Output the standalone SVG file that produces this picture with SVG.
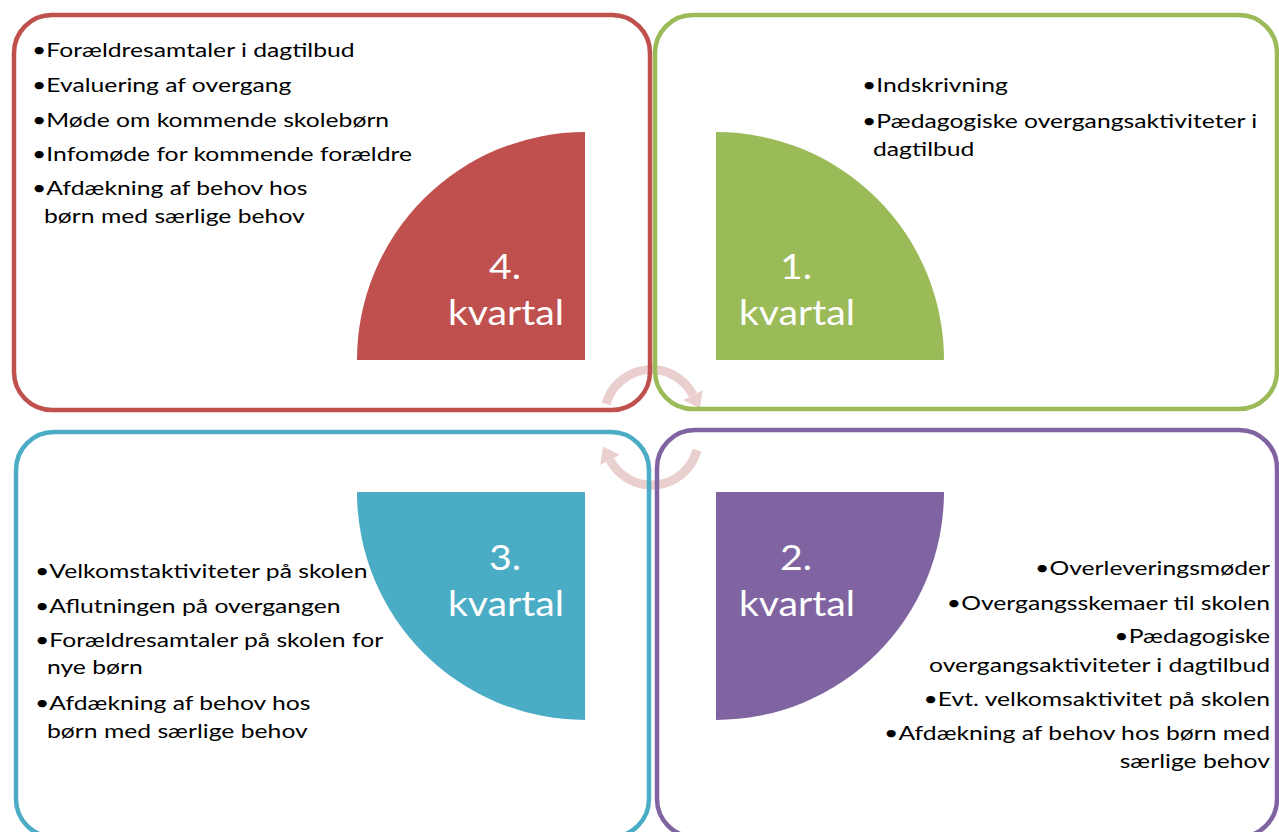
<svg xmlns="http://www.w3.org/2000/svg" width="1279" height="832" viewBox="0 0 1279 832">
<style>
.box{fill:none;stroke-width:4.5}
.t{font-family:Lato,"Liberation Sans",sans-serif;font-size:20px;fill:#000}
.r{text-anchor:end}
.q{font-family:Lato,"Liberation Sans",sans-serif;font-size:35px;fill:#fff;text-anchor:middle}
.arc{fill:none;stroke:#EACFCF;stroke-width:9}
</style>
<defs>
<marker id="ah" markerUnits="userSpaceOnUse" markerWidth="16" markerHeight="22" refX="0" refY="11" orient="auto">
<path d="M0,0 L15,11 L0,22 Z" fill="#EACFCF"/>
</marker>
</defs>
<rect width="1279" height="832" fill="#fff"/>
<g id="connectors">
<path class="arc" d="M606,404 A47,47 0 0 1 693,395" marker-end="url(#ah)"/>
<path class="arc" d="M697,450 A47,47 0 0 1 610,460" marker-end="url(#ah)"/>
</g>
<g id="q4">
<rect class="box" x="14" y="15" width="636" height="395" rx="38" stroke="#C0504D"/>
<text class="t" transform="translate(32,57) scale(1.235,1)">•Forældresamtaler i dagtilbud</text>
<text class="t" transform="translate(32,92) scale(1.235,1)">•Evaluering af overgang</text>
<text class="t" transform="translate(32,127) scale(1.235,1)">•Møde om kommende skolebørn</text>
<text class="t" transform="translate(32,161) scale(1.235,1)">•Infomøde for kommende forældre</text>
<text class="t" transform="translate(32,195) scale(1.235,1)">•Afdækning af behov hos</text>
<text class="t" transform="translate(44,223) scale(1.235,1)">børn med særlige behov</text>
<path d="M585,360 L357,360 A228,228 0 0 1 585,132 Z" fill="#C0504D"/>
<text class="q" transform="translate(505,279) scale(1.12,1)">4.</text>
<text class="q" transform="translate(506,325) scale(1.12,1)">kvartal</text>
</g>
<g id="q1">
<rect class="box" x="655" y="15" width="622" height="394" rx="38" stroke="#9BBB59"/>
<text class="t" transform="translate(862,92) scale(1.235,1)">•Indskrivning</text>
<text class="t" transform="translate(862,128) scale(1.235,1)">•Pædagogiske overgangsaktiviteter i</text>
<text class="t" transform="translate(873,156) scale(1.235,1)">dagtilbud</text>
<path d="M716,360 L716,132 A228,228 0 0 1 944,360 Z" fill="#9BBB59"/>
<text class="q" transform="translate(796,279) scale(1.12,1)">1.</text>
<text class="q" transform="translate(797,325) scale(1.12,1)">kvartal</text>
</g>
<g id="q3">
<rect class="box" x="16" y="432" width="633" height="405" rx="38" stroke="#4BACC6"/>
<text class="t" transform="translate(35,578) scale(1.235,1)">•Velkomstaktiviteter på skolen</text>
<text class="t" transform="translate(35,613) scale(1.235,1)">•Aflutningen på overgangen</text>
<text class="t" transform="translate(35,647) scale(1.235,1)">•Forældresamtaler på skolen for</text>
<text class="t" transform="translate(47,674) scale(1.235,1)">nye børn</text>
<text class="t" transform="translate(35,710) scale(1.235,1)">•Afdækning af behov hos</text>
<text class="t" transform="translate(47,738) scale(1.235,1)">børn med særlige behov</text>
<path d="M585,492 L357,492 A228,228 0 0 0 585,720 Z" fill="#4BACC6"/>
<text class="q" transform="translate(505,570) scale(1.12,1)">3.</text>
<text class="q" transform="translate(506,616) scale(1.12,1)">kvartal</text>
</g>
<g id="q2">
<rect class="box" x="657" y="430" width="620" height="407" rx="38" stroke="#8064A2"/>
<path d="M716,492 L944,492 A228,228 0 0 1 716,720 Z" fill="#8064A2"/>
<text class="q" transform="translate(796,570) scale(1.12,1)">2.</text>
<text class="q" transform="translate(797,616) scale(1.12,1)">kvartal</text>
<text class="t r" transform="translate(1270,575) scale(1.235,1)">•Overleveringsmøder</text>
<text class="t r" transform="translate(1270,610) scale(1.235,1)">•Overgangsskemaer til skolen</text>
<text class="t r" transform="translate(1270,643) scale(1.235,1)">•Pædagogiske</text>
<text class="t r" transform="translate(1270,672) scale(1.235,1)">overgangsaktiviteter i dagtilbud</text>
<text class="t r" transform="translate(1270,706) scale(1.235,1)">•Evt. velkomsaktivitet på skolen</text>
<text class="t r" transform="translate(1270,740) scale(1.235,1)">•Afdækning af behov hos børn med</text>
<text class="t r" transform="translate(1270,768) scale(1.235,1)">særlige behov</text>
</g>
</svg>
